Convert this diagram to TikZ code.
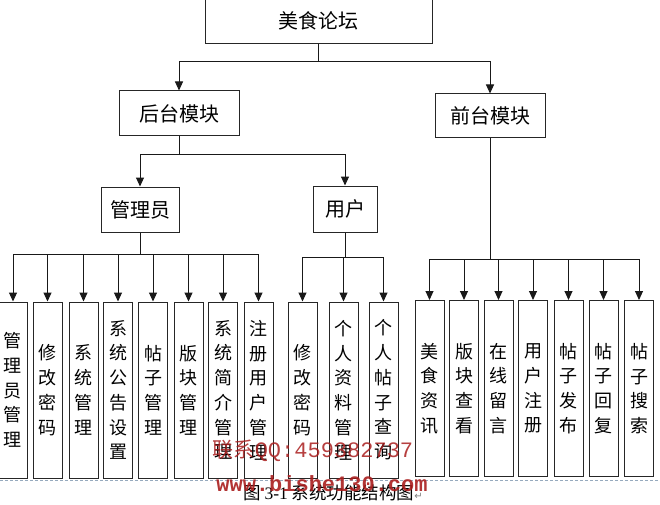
\documentclass[tikz,border=0pt]{standalone}
\usepackage{fontspec}
\setmainfont{Liberation Serif}
\newfontfamily\cjk{Noto Sans CJK SC}
\newfontfamily\symfont{DejaVu Sans}
\newfontfamily\wmono{Liberation Mono}
\usetikzlibrary{arrows.meta}
\definecolor{dashcol}{RGB}{150,170,190}
\definecolor{wmred}{RGB}{170,30,30}
\begin{document}
\begin{tikzpicture}[x=1pt,y=-1pt,
  box/.style={draw=black!85,line width=1pt,inner sep=0pt,font=\cjk\fontsize{20}{24}\selectfont},
  vbox/.style={draw=black!85,line width=1pt,inner sep=0pt,minimum width=29pt,minimum height=176pt,align=center,font=\cjk\fontsize{18}{24.75}\selectfont},
  link/.style={line width=1pt,draw=black!90},
  arr/.style={link,-{Triangle[length=9pt,width=8pt]}}]
\useasboundingbox (0,0) rectangle (660,505);
\fill[white] (0,0) rectangle (660,505);
\draw[dashcol,line width=0.8pt,dash pattern=on 3pt off 2pt] (0,480) -- (660,480);

% top levels
\node[box,minimum width=227pt,minimum height=46pt] (root) at (318.5,21) {美食论坛};
\node[box,minimum width=120pt,minimum height=45pt] (hou) at (179,113.5) {后台模块};
\node[box,minimum width=110pt,minimum height=44pt] (qian) at (490,116) {前台模块};
\node[box,minimum width=78pt,minimum height=45pt] (adm) at (140,209.5) {管理员};
\node[box,minimum width=64pt,minimum height=46pt] (usr) at (345,209) {用户};

% admin children
\node[vbox] (a1) at (13,390) {管\\理\\员\\管\\理};
\node[vbox] (a2) at (47.5,390) {修\\改\\密\\码};
\node[vbox] (a3) at (83.5,390) {系\\统\\管\\理};
\node[vbox] (a4) at (118,390) {系\\统\\公\\告\\设\\置};
\node[vbox] (a5) at (153,390) {帖\\子\\管\\理};
\node[vbox] (a6) at (188.5,390) {版\\块\\管\\理};
\node[vbox] (a7) at (223,390) {系\\统\\简\\介\\管\\理};
\node[vbox] (a8) at (258.5,390) {注\\册\\用\\户\\管\\理};
% user children
\node[vbox] (u1) at (302.5,390) {修\\改\\密\\码};
\node[vbox] (u2) at (343.5,390) {个\\人\\资\\料\\管\\理};
\node[vbox] (u3) at (383.5,390) {个\\人\\帖\\子\\查\\询};
% front children
\node[vbox] (f1) at (429.5,388.5) {美\\食\\资\\讯};
\node[vbox] (f2) at (464,388.5) {版\\块\\查\\看};
\node[vbox] (f3) at (498.5,388.5) {在\\线\\留\\言};
\node[vbox] (f4) at (533,388.5) {用\\户\\注\\册};
\node[vbox] (f5) at (568.5,388.5) {帖\\子\\发\\布};
\node[vbox] (f6) at (603.5,388.5) {帖\\子\\回\\复};
\node[vbox] (f7) at (639,388.5) {帖\\子\\搜\\索};

% connectors
\coordinate (b0) at (318.5,62);
\draw[link] (root.south) -- (b0);
\draw[arr] (b0) -| (hou.north);
\draw[arr] (b0) -| (qian.north);

\coordinate (b1) at (179,155);
\draw[link] (hou.south) -- (b1);
\draw[arr] (b1) -| (adm.north);
\draw[arr] (b1) -| (usr.north);

\coordinate (b2) at (140,254);
\draw[link] (adm.south) -- (b2);
\foreach \n in {a1,a2,a3,a4,a5,a6,a7,a8} \draw[arr] (b2) -| (\n.north);

\coordinate (b3) at (345,257);
\draw[link] (usr.south) -- (b3);
\foreach \n in {u1,u2,u3} \draw[arr] (b3) -| (\n.north);

\coordinate (b4) at (490,259);
\draw[link] (qian.south) -- (b4);
\foreach \n in {f1,f2,f3,f4,f5,f6,f7} \draw[arr] (b4) -| (\n.north);

% caption
\node[inner sep=0pt,font=\cjk\fontsize{17.5}{20}\selectfont] (cap) at (333,493)
  {图 {\rmfamily 3-1} 系统功能结构图{\symfont\color{gray}\fontsize{10}{12}\selectfont ↵}};

% watermark
\node[inner sep=0pt,text=wmred,opacity=0.85,font=\cjk\fontsize{21}{24}\selectfont] (wm1) at (313,451)
  {联系{\wmono\fontsize{22}{24}\selectfont QQ:459382737}};
\node[inner sep=0pt,text=wmred,opacity=0.9,font=\wmono\bfseries\fontsize{22}{24}\selectfont] (wm2) at (322,484)
  {www.bishe130.com};
\end{tikzpicture}
\end{document}
